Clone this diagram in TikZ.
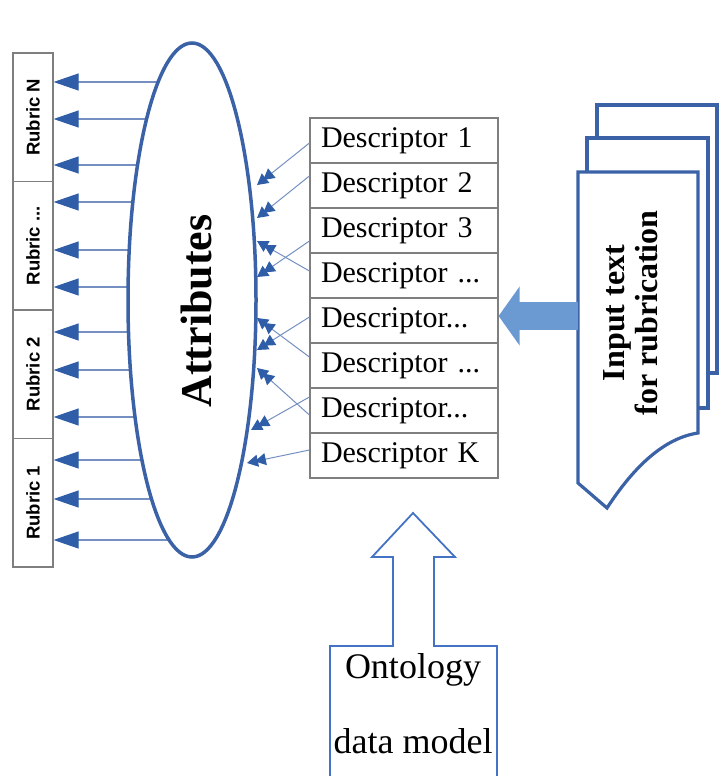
\documentclass[tikz,border=0pt]{standalone}
\usepackage{fontspec}
\setmainfont{Liberation Serif}
\newfontfamily\rubfont{Liberation Sans}
\usetikzlibrary{arrows.meta,shapes.geometric}
\definecolor{ellblue}{HTML}{3B62A6}
\definecolor{headblue}{HTML}{2F5DA8}
\definecolor{thinblue}{HTML}{7590C0}
\definecolor{boxgray}{HTML}{7F7F7F}
\definecolor{bigarrow}{HTML}{6B9AD3}
\definecolor{ontoblue}{HTML}{4472C4}
\pgfdeclarelayer{bg}
\pgfsetlayers{bg,main}
\begin{document}
\begin{tikzpicture}[x=1pt,y=-1pt,
  rubbox/.style={draw=boxgray, line width=1.2pt, minimum width=40pt, minimum height=128.5pt, inner sep=0pt, font=\rubfont\bfseries\fontsize{18.5}{20}\selectfont},
  descbox/.style={draw=boxgray, line width=1.2pt, minimum width=188pt, minimum height=45pt, inner xsep=11pt, inner ysep=0pt, text width=166pt, align=left, font=\fontsize{30}{34}\selectfont},
  rubarr/.style={draw=thinblue, line width=1.1pt, -{Triangle[length=25pt,width=17pt,color=headblue]}},
  darr/.style={draw=thinblue, line width=1pt, -{Triangle[length=11pt,width=12pt,color=headblue,sep=-3pt]Triangle[length=11pt,width=12pt,color=headblue]}},
  pagestyle/.style={draw=ellblue, line width=3.2pt, fill=white, line join=miter},
  ontostyle/.style={draw=ontoblue, line width=1.8pt, line join=miter}
]
\useasboundingbox (0,0) rectangle (721,776);

% Attributes ellipse
\node[ellipse, draw=ellblue, line width=3.5pt, fill=white, minimum width=128pt, minimum height=514pt, inner sep=0pt] (attr) at (192,300) {};
\node[font=\bfseries\fontsize{44}{48}\selectfont, inner sep=0pt] (attrtext) at (197,311) {\rotatebox{90}{Attributes}};

% Rubric boxes
\node[rubbox] (rubN) at (33,117.25) {\rotatebox{90}{Rubric N}};
\node[rubbox] (rubD) at (33,245.75) {\rotatebox{90}{Rubric ...}};
\node[rubbox] (rub2) at (33,374.25) {\rotatebox{90}{Rubric 2}};
\node[rubbox] (rub1) at (33,502.75) {\rotatebox{90}{Rubric 1}};

% Arrows from attributes to rubrics (behind the ellipse)
\begin{pgfonlayer}{bg}
\foreach \yy/\rb in {82/rubN,119/rubN,165/rubN,202/rubD,250/rubD,287/rubD,332/rub2,370/rub2,417/rub2,460/rub1,499/rub1,540/rub1}{
  \draw[rubarr] (attr.center |- 0,\yy) -- (\rb.east |- 0,\yy);
}
\end{pgfonlayer}

% Descriptor table
\node[descbox] (d1) at (404,140.5) {Descriptor 1};
\node[descbox] (d2) at (404,185.5) {Descriptor 2};
\node[descbox] (d3) at (404,230.5) {Descriptor 3};
\node[descbox] (d4) at (404,275.5) {Descriptor ...};
\node[descbox] (d5) at (404,320.5) {Descriptor...};
\node[descbox] (d6) at (404,365.5) {Descriptor ...};
\node[descbox] (d7) at (404,410.5) {Descriptor...};
\node[descbox] (d8) at (404,455.5) {Descriptor K};

% Arrow tips near the ellipse
\coordinate (t1) at (257,185);
\coordinate (t2) at (257,218);
\coordinate (t3) at (257,277);
\coordinate (t4) at (257,241);
\coordinate (t5) at (257,350);
\coordinate (t6) at (257,318);
\coordinate (t7) at (251,430);
\coordinate (t7b) at (257,368);
\coordinate (t8) at (247,463);

\draw[darr] (d1.west |- 0,143) -- (t1);
\draw[darr] (d2.west |- 0,176) -- (t2);
\draw[darr] (d3.west |- 0,241) -- (t3);
\draw[darr] (d4.west |- 0,271) -- (t4);
\draw[darr] (d5.west |- 0,317) -- (t5);
\draw[darr] (d6.west |- 0,357) -- (t6);
\draw[darr] (d7.west |- 0,397) -- (t7);
\draw[darr] (d7.west |- 0,415) -- (t7b);
\draw[darr] (d8.west |- 0,450) -- (t8);

% Input text pages
\draw[pagestyle] (597,105) rectangle (717,373);
\draw[pagestyle] (587,138) rectangle (708,408);
\draw[pagestyle] (578,172) -- (698,172) -- (698,433) .. controls (665,438) and (635,465) .. (607,508) -- (578,483) -- cycle;
\node[font=\bfseries\fontsize{32}{33}\selectfont, align=center, inner sep=0pt] (inp) at (634,313) {\rotatebox{90}{\begin{tabular}{@{}c@{}}Input text\\[0pt] for rubrication\end{tabular}}};
\coordinate (frontL) at (578,316);

% Big arrow from input to descriptors
\draw[draw=bigarrow, line width=28pt, -{Triangle[length=21pt,width=58pt,color=bigarrow]}] (frontL) -- (d5.east |- frontL);

% Ontology data model
\draw[ontostyle] (330,776) -- (330,646) -- (393,646) -- (393,557) -- (372,557) -- (413,513) -- (455,557) -- (434,557) -- (434,646) -- (497,646) -- (497,776);
\node[font=\fontsize{36}{40}\selectfont, inner sep=0pt] (onto1) at (413,670) {Ontology};
\node[font=\fontsize{36}{40}\selectfont, inner sep=0pt] (onto2) at (413,741) {data model};
\end{tikzpicture}
\end{document}
